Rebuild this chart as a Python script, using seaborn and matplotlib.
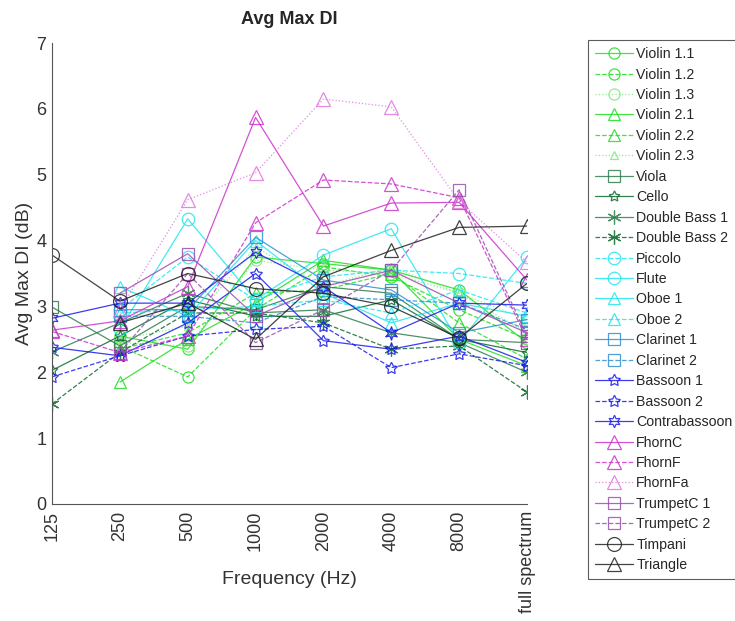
import numpy as np
import pandas as pd
import matplotlib
matplotlib.use("Agg")
import matplotlib.pyplot as plt
import seaborn as sns

sns.set_style("white")
plt.rcParams['font.family'] = ['Liberation Sans', 'DejaVu Sans']

freq_labels = ["125", "250", "500", "1000", "2000", "4000", "8000", "full spectrum"]
nan = np.nan

names = ["Violin 1.1", "Violin 1.2", "Violin 1.3", "Violin 2.1", "Violin 2.2", "Violin 2.3",
         "Viola", "Cello", "Double Bass 1", "Double Bass 2", "Piccolo", "Flute",
         "Oboe 1", "Oboe 2", "Clarinet 1", "Clarinet 2", "Bassoon 1", "Bassoon 2",
         "Contrabassoon", "FhornC", "FhornF", "FhornFa", "TrumpetC 1", "TrumpetC 2",
         "Timpani", "Triangle"]

violin_1_1 = [nan, 2.55, 2.35, 3.75, 3.65, 3.55, 3.25, 2.45]
violin_1_2 = [nan, 2.40, 1.93, 2.95, 3.60, 3.45, 2.95, 2.50]
violin_1_3 = [nan, 2.45, 2.40, 3.70, 3.55, 3.50, 3.20, 2.80]
violin_2_1 = [nan, 1.85, 2.50, 3.05, 3.70, 3.55, 2.50, 2.10]
violin_2_2 = [nan, 2.35, 2.60, 3.20, 3.25, 3.50, 2.75, 2.20]
violin_2_3 = [nan, 2.50, 2.70, 3.90, 3.30, 3.60, 3.20, 2.60]
viola = [2.99, 2.40, 3.00, 2.95, 3.30, 3.20, 2.50, 2.45]
cello = [2.03, 2.55, 3.10, 2.85, 2.85, 3.10, 2.50, 2.30]
double_bass_1 = [2.31, 2.75, 3.20, 2.90, 2.95, 2.60, 2.45, 2.00]
double_bass_2 = [1.52, 2.30, 2.90, 2.90, 2.75, 2.35, 2.40, 1.70]
piccolo = [nan, 2.95, 3.75, 3.10, 3.45, 3.55, 3.50, 3.35]
flute = [nan, 2.65, 4.33, 3.10, 3.78, 4.18, 2.45, 3.75]
oboe_1 = [nan, 3.30, 2.85, 4.00, 3.20, 2.75, 3.05, 2.85]
oboe_2 = [nan, 2.90, 2.95, 3.00, 3.10, 2.90, 3.25, 2.90]
clarinet_1 = [nan, 2.95, 2.95, 4.05, 3.40, 3.25, 2.60, 2.80]
clarinet_2 = [nan, 2.85, 2.85, 2.75, 3.15, 3.10, 3.05, 2.65]
bassoon_1 = [2.38, 2.25, 2.75, 3.50, 2.48, 2.35, 2.55, 2.15]
bassoon_2 = [1.93, 2.25, 2.55, 2.65, 2.70, 2.07, 2.28, 2.10]
contrabassoon = [2.82, 3.05, 3.05, 3.82, 3.30, 2.60, 3.05, 3.02]
fhorn_c = [2.64, 2.78, 3.30, 5.87, 4.22, 4.57, 4.58, 3.40]
fhorn_f = [2.62, 2.30, 2.55, 4.27, 4.92, 4.86, 4.65, 2.50]
fhorn_fa = [nan, 2.95, 4.62, 5.03, 6.15, 6.03, 4.60, 3.67]
trumpet_c_1 = [nan, 3.20, 3.80, 2.85, 3.30, 3.55, 3.05, 2.60]
trumpet_c_2 = [nan, 2.30, 3.50, 2.45, 2.95, 3.55, 4.77, 2.55]
timpani = [3.78, 3.08, 3.50, 3.27, 3.20, 3.00, 2.52, 3.35]
triangle = [nan, 2.75, 3.05, 2.50, 3.45, 3.85, 4.20, 4.22]

values = [violin_1_1, violin_1_2, violin_1_3, violin_2_1, violin_2_2, violin_2_3,
          viola, cello, double_bass_1, double_bass_2, piccolo, flute,
          oboe_1, oboe_2, clarinet_1, clarinet_2, bassoon_1, bassoon_2,
          contrabassoon, fhorn_c, fhorn_f, fhorn_fa, trumpet_c_1, trumpet_c_2,
          timpani, triangle]

green = "#22dd22"
lgreen = "#7fe87f"
dgreen = "#2e7d4f"
dgreen2 = "#0b6b2e"
cyan = "#22e6f0"
steel = "#2f8fcf"
blue = "#1a1aee"
mag = "#cc33cc"
lmag = "#dd77dd"
purp = "#9a4faf"
black = "#222222"

pent = (5, 1, 0)
hexa = (6, 1, 0)
aster = (6, 2, 0)
styles = [
    (green, "-", "o", 8), (green, "--", "o", 8), (lgreen, ":", "o", 8),
    (green, "-", "^", 9), (green, "--", "^", 9), (lgreen, ":", "^", 6),
    (dgreen, "-", "s", 8), (dgreen2, "-", pent, 8), (dgreen, "-", aster, 10), (dgreen2, "--", aster, 10),
    (cyan, "--", "o", 9), (cyan, "-", "o", 9), (cyan, "-", "^", 9), (cyan, "--", "^", 9),
    (steel, "-", "s", 8), (steel, "--", "s", 8),
    (blue, "-", pent, 9), (blue, "--", pent, 9), (blue, "-", hexa, 9),
    (mag, "-", "^", 10), (mag, "--", "^", 10), (lmag, ":", "^", 10),
    (purp, "-", "s", 8), (purp, "--", "s", 8),
    (black, "-", "o", 10), (black, "-", "^", 10),
]

fig = plt.figure(figsize=(7.35, 6.21), dpi=100)
ax = fig.add_axes([52 / 735, 1 - 504 / 621, (527 - 52) / 735, (504 - 43) / 621])

xpos = np.arange(1, 9)
for name, vals, (col, ls, mk, ms) in zip(names, values, styles):
    df = pd.DataFrame({"x": xpos, "y": vals}).dropna()
    sns.lineplot(data=df, x="x", y="y", ax=ax, color=col, linestyle=ls, marker=mk,
                 markersize=ms, markerfacecolor="none", markeredgecolor=col,
                 markeredgewidth=0.9, linewidth=0.9, alpha=0.85, label=name,
                 legend=False, estimator=None, sort=False)

ax.set_xlim(1, 8)
ax.set_ylim(0, 7)
ax.set_xticks(xpos)
ax.set_xticklabels(freq_labels, rotation=90, fontsize=13, color="#333333")
ax.set_yticks(range(0, 8))
ax.set_yticklabels([str(i) for i in range(0, 8)], fontsize=13, color="#333333")
ax.tick_params(axis="both", direction="in", length=4, width=0.8, colors="#333333")
ax.tick_params(axis="x", pad=5)
ax.tick_params(axis="y", pad=4)
for s in ["top", "right"]:
    ax.spines[s].set_visible(False)
for s in ["left", "bottom"]:
    ax.spines[s].set_color("#555555")
    ax.spines[s].set_linewidth(0.8)
ax.set_xlabel("Frequency (Hz)", fontsize=14, color="#333333")
ax.xaxis.set_label_coords(0.5, -0.145)
ax.set_ylabel("Avg Max DI (dB)", fontsize=14, color="#333333")
ax.yaxis.set_label_coords(-0.04, 0.5)
ax.set_title("Avg Max DI", fontsize=13, fontweight="bold", pad=14)

handles = ax.get_lines()
leg = fig.legend(handles, names, loc="upper left", bbox_to_anchor=(588 / 735, 1 - 40 / 621),
                 fontsize=10.2, labelspacing=0.455, handlelength=2.7, handletextpad=0.2,
                 borderpad=0.5, frameon=True, fancybox=False, edgecolor="#333333",
                 borderaxespad=0)
leg.get_frame().set_linewidth(0.8)

fig.savefig("out.png", dpi=100)
